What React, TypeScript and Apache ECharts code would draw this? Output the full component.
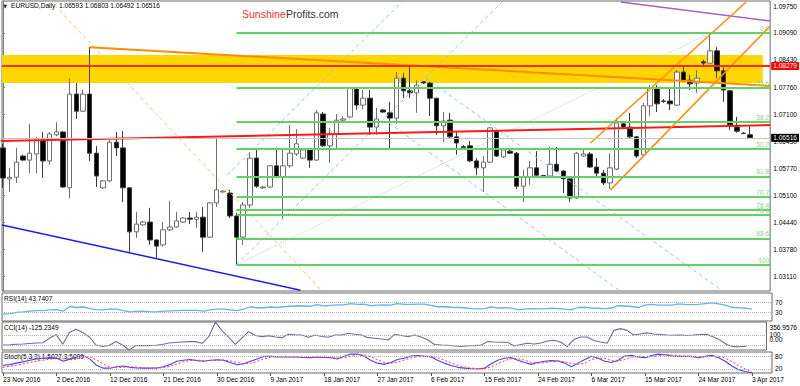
import React, { useEffect, useRef } from "react";
import * as echarts from "echarts";

// ---------- data ----------
const symbolName = "EURUSD,Daily";
const dateLabels = [
  "23 Nov 2016", "2 Dec 2016", "12 Dec 2016", "21 Dec 2016", "30 Dec 2016",
  "9 Jan 2017", "18 Jan 2017", "27 Jan 2017", "6 Feb 2017", "15 Feb 2017",
  "24 Feb 2017", "6 Mar 2017", "15 Mar 2017", "24 Mar 2017", "3 Apr 2017",
];
const barsPerLabel = 8;
const priceTicks = [1.0311, 1.0378, 1.0444, 1.051, 1.0577, 1.0643, 1.071, 1.0776, 1.0843, 1.0909, 1.0975];

// [open, close, low, high]
const ohlc: number[][] = [
  [1.0627, 1.0553, 1.0529, 1.0637], [1.0551, 1.0555, 1.0519, 1.0578], [1.0555, 1.0592, 1.0541, 1.0627],
  [1.0607, 1.0597, 1.0595, 1.061], [1.0597, 1.0614, 1.0565, 1.0686], [1.0612, 1.0646, 1.0565, 1.0654],
  [1.0646, 1.0595, 1.0553, 1.0666], [1.0595, 1.0661, 1.0585, 1.0666], [1.0659, 1.0666, 1.0656, 1.069],
  [1.0666, 1.0531, 1.0529, 1.0668], [1.0529, 1.0759, 1.0504, 1.0798], [1.0759, 1.0717, 1.0698, 1.0786],
  [1.0717, 1.0759, 1.0715, 1.0769], [1.0759, 1.0614, 1.0595, 1.0874], [1.0614, 1.0558, 1.0531, 1.0632],
  [1.0529, 1.0546, 1.0526, 1.0548], [1.0546, 1.0641, 1.0543, 1.0646], [1.0641, 1.0627, 1.0607, 1.0666],
  [1.0627, 1.0529, 1.0494, 1.0668], [1.0529, 1.0421, 1.0372, 1.0531], [1.0421, 1.044, 1.0406, 1.047],
  [1.0438, 1.0445, 1.0436, 1.0448], [1.0445, 1.0401, 1.0389, 1.048], [1.0401, 1.0386, 1.0357, 1.0403],
  [1.0389, 1.0426, 1.0384, 1.0445], [1.0426, 1.0433, 1.0423, 1.0497], [1.0433, 1.0448, 1.0431, 1.047],
  [1.0445, 1.0455, 1.0443, 1.0457], [1.0455, 1.0452, 1.044, 1.047], [1.0452, 1.0457, 1.0431, 1.047],
  [1.0457, 1.0408, 1.0372, 1.0482], [1.0408, 1.0492, 1.0406, 1.0494], [1.0492, 1.0524, 1.0482, 1.0651],
  [1.0519, 1.0521, 1.0516, 1.0524], [1.0516, 1.046, 1.0455, 1.0524], [1.046, 1.0408, 1.034, 1.0467],
  [1.0408, 1.0487, 1.0389, 1.0494], [1.0487, 1.0602, 1.048, 1.0617], [1.0602, 1.0533, 1.0529, 1.0624],
  [1.0529, 1.0531, 1.0526, 1.0534], [1.0531, 1.0583, 1.0529, 1.0585], [1.0583, 1.0556, 1.0553, 1.0627],
  [1.0556, 1.0583, 1.0453, 1.0622], [1.0583, 1.0614, 1.0578, 1.0683], [1.0612, 1.0637, 1.0607, 1.0673],
  [1.0602, 1.0622, 1.06, 1.0627], [1.0622, 1.0597, 1.0578, 1.0624], [1.0597, 1.0713, 1.0595, 1.072],
  [1.071, 1.0632, 1.0629, 1.0715], [1.0632, 1.0661, 1.059, 1.0676], [1.0661, 1.0695, 1.0624, 1.071],
  [1.0695, 1.0698, 1.0693, 1.0705], [1.0703, 1.0774, 1.07, 1.0776], [1.0774, 1.0732, 1.072, 1.0776],
  [1.0732, 1.0749, 1.0722, 1.0769], [1.0749, 1.0678, 1.0659, 1.0769], [1.0678, 1.0698, 1.0659, 1.0725],
  [1.072, 1.0715, 1.0713, 1.0722], [1.0713, 1.07, 1.0622, 1.074], [1.07, 1.0798, 1.0686, 1.0813],
  [1.0798, 1.0767, 1.0749, 1.0811], [1.0767, 1.0762, 1.0749, 1.0828], [1.0762, 1.0781, 1.0713, 1.0793],
  [1.0789, 1.0786, 1.0784, 1.0791], [1.0786, 1.0749, 1.0705, 1.0789], [1.0749, 1.0681, 1.0659, 1.0749],
  [1.0681, 1.0693, 1.0641, 1.0715], [1.0695, 1.0654, 1.0651, 1.0713], [1.0654, 1.0639, 1.061, 1.0666],
  [1.063, 1.0628, 1.0624, 1.0634], [1.0632, 1.0595, 1.0592, 1.0644], [1.0595, 1.0578, 1.056, 1.0602],
  [1.0578, 1.0592, 1.0519, 1.0607], [1.0592, 1.0676, 1.059, 1.0678], [1.0668, 1.0607, 1.0605, 1.0671],
  [1.0605, 1.0622, 1.0602, 1.0624], [1.0619, 1.0614, 1.0612, 1.0622], [1.0614, 1.0533, 1.0526, 1.0617],
  [1.0533, 1.0556, 1.0494, 1.0573], [1.0556, 1.0578, 1.0536, 1.0595], [1.0578, 1.056, 1.0558, 1.0619],
  [1.0559, 1.0558, 1.0556, 1.0561], [1.0558, 1.0587, 1.0555, 1.0629], [1.0587, 1.057, 1.0568, 1.0629],
  [1.057, 1.0551, 1.0516, 1.0573], [1.0551, 1.0504, 1.0494, 1.0551], [1.0504, 1.0614, 1.0502, 1.0617],
  [1.0607, 1.0612, 1.0605, 1.0622], [1.0612, 1.058, 1.0578, 1.0617], [1.058, 1.0565, 1.0556, 1.0602],
  [1.0565, 1.0541, 1.0536, 1.0573], [1.0541, 1.0578, 1.0526, 1.0614], [1.0575, 1.0688, 1.0573, 1.07],
  [1.0686, 1.0678, 1.0676, 1.0688], [1.0678, 1.0654, 1.0651, 1.0713], [1.0654, 1.0607, 1.0602, 1.0656],
  [1.061, 1.073, 1.0607, 1.0737], [1.073, 1.0774, 1.0705, 1.0781], [1.0774, 1.0735, 1.0715, 1.0781],
  [1.0742, 1.0741, 1.0737, 1.0747], [1.0742, 1.0735, 1.072, 1.0774], [1.0732, 1.0813, 1.073, 1.0818],
  [1.0813, 1.0793, 1.0789, 1.083], [1.0793, 1.0784, 1.0769, 1.0806], [1.0786, 1.0798, 1.0762, 1.0818],
  [1.0838, 1.0835, 1.0825, 1.0843], [1.0835, 1.0865, 1.0835, 1.0909], [1.0865, 1.0816, 1.0798, 1.0874],
  [1.0816, 1.0769, 1.074, 1.0825], [1.0767, 1.0683, 1.0671, 1.0769], [1.0678, 1.0668, 1.0664, 1.0703],
  [1.0663, 1.0662, 1.0661, 1.0666], [1.06593, 1.06516, 1.06492, 1.06803],
];

const rsi = [
  24, 26, 31, 33, 36, 38, 38, 41, 42, 36, 54, 50, 52, 46, 42, 41, 45, 44, 38, 33,
  35, 36, 34, 33, 36, 37, 38, 39, 39, 39, 36, 41, 44, 44, 41, 38, 44, 53, 49, 49,
  52, 50, 53, 55, 57, 56, 55, 61, 56, 58, 60, 60, 65, 62, 63, 57, 59, 60, 59, 65,
  62, 62, 63, 63, 58, 53, 54, 51, 50, 49, 46, 45, 46, 52, 48, 49, 48, 42, 44, 46,
  45, 45, 47, 46, 44, 41, 50, 51, 48, 47, 45, 48, 57, 56, 54, 50, 59, 62, 59, 59,
  59, 64, 62, 61, 62, 65, 68, 64, 59, 51, 49, 48, 43.7407,
];

const cci = [
  -100, -95, -86, -80, -70, -60, -55, 33, 110, -86, 150, 215, 150, 60, -100, -130, -110, -30, -100, -199.4345,
  -113, -113, -113, -105, -90, -60, -50, -40, -33, -33, -66, 66, 356.9576, 180, 50, -86, 40, 165, 90, 66,
  86, 60, 46, 112, 105, 99, 53, 99, 70, 53, 99, 99, 132, 115, 99, 46, 33, 20, 0, 112,
  90, 66, 100, 60, 0, -90, -100, -105, -120, -130, -115, -113, -100, -33, -40, -46, -46, -120, -90, -66,
  -80, -60, -20, -5, -40, -133, 10, 60, 60, -10, -40, -66, 190, 225, 190, 100, 120, 140, 120, 110,
  100, 95, 99, 90, 99, 110, 112, 60, 0, -90, -133, -135, -125.2349,
];

const stochK = [
  37, 40, 47, 53, 61, 67, 70, 73, 71, 56, 66, 76, 84, 66, 37, 23, 23, 30, 33, 27,
  24, 23, 23, 24, 30, 41, 56, 61, 64, 59, 56, 61, 63, 61, 50, 39, 44, 56, 67, 79,
  80, 77, 76, 76, 76, 74, 73, 76, 74, 73, 67, 80, 90, 90, 80, 61, 47, 41, 50, 64,
  70, 81, 83, 80, 76, 61, 47, 36, 27, 23, 20, 19, 23, 44, 61, 70, 73, 61, 50, 41,
  50, 56, 59, 57, 47, 30, 47, 64, 80, 70, 56, 50, 61, 81, 84, 76, 73, 83, 90, 87,
  81, 79, 80, 79, 73, 79, 84, 73, 56, 33, 16, 7, 1.5027,
];

const stochD = [
  28, 32, 37, 43, 50, 56, 61, 66, 69, 68, 63, 66, 75, 77, 63, 42, 28, 25, 27, 30,
  28, 25, 23, 23, 26, 32, 42, 53, 60, 61, 60, 59, 60, 62, 58, 50, 44, 46, 55, 67,
  75, 79, 78, 76, 76, 75, 74, 74, 75, 74, 71, 73, 79, 87, 87, 77, 63, 50, 46, 52,
  62, 72, 78, 81, 80, 72, 61, 48, 37, 29, 23, 21, 21, 29, 43, 58, 68, 68, 61, 51,
  47, 49, 55, 57, 54, 45, 41, 47, 64, 71, 69, 59, 56, 64, 75, 80, 78, 77, 82, 87,
  86, 82, 80, 79, 77, 77, 79, 79, 71, 54, 35, 19, 3.5,
];

// key levels
const resistanceLevel = 1.08279;
const bidLevel = 1.06516;
const zoneLow = 1.0786;
const zoneHigh = 1.0855;
const fibHigh = 1.0909;
const fibLow = 1.034;
const fibStartBar = 35;
const fibLevels = ["0.0", "23.6", "38.2", "50.0", "61.8", "70.7", "76.4", "78.6", "88.6", "100"];

// trend lines as [bar index, price] end points
const orangeResistance = [[13, 1.0874], [115, 1.0779]];
const redSupport = [[-0.45, 1.0644], [115, 1.0683]];
const blueSupport = [[-0.15, 1.0438], [44.6, 1.0278]];
const orangeDashed = [[7.0, 1.099], [47.7, 1.0278]];
const purpleLine = [[92.6, 1.0985], [115, 1.0938]];
const channelUpper = [[88.07, 1.0639], [111.4, 1.0985]];
const channelLower = [[91.07, 1.0524], [115, 1.0926]];
const fibDiagonal = [[35, 1.034], [106, 1.0909]];
const blueRise1 = [[33.6, 1.056], [59.8, 1.0985]];
const blueRise2 = [[35, 1.034], [74.8, 1.0985]];
const blueFall1 = [[57.9, 1.0688], [92.3, 1.0278]];
const blueFall2 = [[63.4, 1.0798], [107.7, 1.0278]];

// ---------- chart ----------
const FONT = "Liberation Sans";
const FS = 6.6;
const X_MIN = -0.15;
const X_MAX = 115;

function buildOption() {
  const last = ohlc[ohlc.length - 1];
  const labelIdx = dateLabels.map((_, i) => i * barsPerLabel);
  const fibPrice = (r: number) => fibHigh - (r / 100) * (fibHigh - fibLow);
  const cciMax = Math.max(...cci);
  const cciMin = Math.min(...cci);

  const trend = (pts: number[][], color: string, width: number, type: any = "solid", z = 4) => ({
    type: "line",
    xAxisIndex: 0,
    yAxisIndex: 0,
    data: pts,
    showSymbol: false,
    symbol: "none",
    silent: true,
    clip: true,
    z,
    lineStyle: { color, width, type },
  });

  const grids = [
    { left: 2, top: 1, width: 770, height: 290 },
    { left: 2, top: 293, width: 770, height: 28 },
    { left: 2, top: 322, width: 770, height: 28 },
    { left: 2, top: 352, width: 770, height: 21 },
  ].map((g) => ({ ...g, show: true, borderColor: "#6b6b6b", borderWidth: 1, backgroundColor: "transparent" }));

  const hiddenX = (gi: number) => ({
    type: "value", gridIndex: gi, min: X_MIN, max: X_MAX, show: false,
    splitLine: { show: false },
  });

  const rightLabel = { fontSize: FS, fontFamily: FONT, color: "#000", margin: 3 };

  const option: any = {
    animation: false,
    backgroundColor: "#fff",
    textStyle: { fontFamily: FONT },
    grid: grids,
    xAxis: [
      hiddenX(0), hiddenX(1), hiddenX(2),
      {
        type: "value", gridIndex: 3, min: X_MIN, max: X_MAX,
        axisLine: { show: false },
        splitLine: { show: false },
        axisTick: { show: true, customValues: labelIdx, length: 3, lineStyle: { color: "#555" } },
        axisLabel: {
          customValues: labelIdx,
          formatter: (v: number) => dateLabels[Math.round(v / barsPerLabel)] ?? "",
          align: "left", fontSize: FS, fontFamily: FONT, color: "#000", margin: 3,
        },
      },
    ],
    yAxis: [
      {
        type: "value", gridIndex: 0, position: "right", min: 1.02759, max: 1.09873,
        axisLine: { show: true, lineStyle: { color: "#7a7a7a" } },
        axisTick: { show: true, customValues: priceTicks, length: 2, lineStyle: { color: "#7a7a7a" } },
        splitLine: { show: false },
        axisLabel: { ...rightLabel, customValues: priceTicks, formatter: (v: number) => v.toFixed(5) },
      },
      {
        type: "value", gridIndex: 1, position: "right", min: -3, max: 107,
        axisLine: { show: false }, axisTick: { show: false }, splitLine: { show: false },
        axisLabel: {
          ...rightLabel, customValues: [0, 30, 70, 100],
          formatter: (v: number) => (v === 100 ? "{t|100}" : v === 0 ? "{b|0}" : String(v)),
          rich: {
            t: { fontSize: FS, fontFamily: FONT, color: "#000", padding: [3, 0, 0, 0] },
            b: { fontSize: FS, fontFamily: FONT, color: "#000", padding: [0, 0, 4, 0] },
          },
        },
      },
      {
        type: "value", gridIndex: 2, position: "right", min: cciMin, max: cciMax,
        axisLine: { show: false }, axisTick: { show: false }, splitLine: { show: false },
        axisLabel: {
          ...rightLabel, customValues: [cciMin, 0, 100, cciMax],
          formatter: (v: number) => {
            if (v === cciMax) return "{t|" + v.toFixed(4) + "}";
            if (v === cciMin) return "{b|" + v.toFixed(4) + "}";
            if (v === 0) return "0.00";
            return String(v);
          },
          rich: {
            t: { fontSize: FS, fontFamily: FONT, color: "#000", padding: [11, 0, 0, 0] },
            b: { fontSize: FS, fontFamily: FONT, color: "#000", padding: [0, 0, 8, 0] },
          },
        },
      },
      {
        type: "value", gridIndex: 3, position: "right", min: 0, max: 100,
        axisLine: { show: false }, axisTick: { show: false }, splitLine: { show: false },
        axisLabel: {
          ...rightLabel, customValues: [0, 20, 80, 100],
          formatter: (v: number) => (v === 100 ? "{t|100}" : v === 0 ? "{b|0}" : String(v)),
          rich: {
            t: { fontSize: FS, fontFamily: FONT, color: "#000", padding: [8, 0, 0, 0] },
            b: { fontSize: FS, fontFamily: FONT, color: "#000", padding: [0, 0, 7, 0] },
          },
        },
      },
    ],
    series: [
      // supply zone
      {
        type: "line", xAxisIndex: 0, yAxisIndex: 0, data: [], silent: true, z: 1,
        markArea: {
          silent: true,
          itemStyle: { color: "#FFD700", opacity: 1 },
          data: [[{ xAxis: X_MIN, yAxis: zoneHigh }, { xAxis: 113.9, yAxis: zoneLow }]],
        },
      },
      // fibonacci retracement
      {
        type: "line", xAxisIndex: 0, yAxisIndex: 0, data: [], silent: true, z: 2,
        markLine: {
          silent: true, symbol: "none",
          lineStyle: { color: "#66CF66", width: 2, type: "solid" },
          label: {
            show: true, position: "insideEndTop", formatter: "{b}", distance: 1,
            color: "#86D986", fontSize: FS, fontFamily: FONT,
          },
          data: fibLevels.map((l) => [
            { name: l, coord: [fibStartBar, fibPrice(parseFloat(l))] },
            { coord: [X_MAX, fibPrice(parseFloat(l))] },
          ]),
        },
      },
      // candles + horizontal levels
      {
        type: "candlestick", xAxisIndex: 0, yAxisIndex: 0, z: 3,
        data: ohlc.map((d, i) => [i, d[0], d[1], d[2], d[3]]),
        encode: { x: 0, y: [1, 2, 3, 4] },
        barWidth: 5,
        itemStyle: { color: "#ffffff", color0: "#000000", borderColor: "#6e6e6e", borderColor0: "#3a3a3a", borderWidth: 1 },
        markLine: {
          silent: true, symbol: "none", precision: 5,
          data: [
            [
              { coord: [X_MIN, bidLevel], name: bidLevel.toFixed(5) },
              { coord: [X_MAX, bidLevel] },
            ],
            [
              { coord: [X_MIN, resistanceLevel], name: resistanceLevel.toFixed(5) },
              { coord: [X_MAX, resistanceLevel] },
            ],
          ].map((seg, k) => [
            {
              ...seg[0],
              lineStyle: k === 0
                ? { color: "#c4c4c4", width: 1, type: "solid" }
                : { color: "#FF2A00", width: 2, type: "solid" },
              label: {
                show: true, position: "end", distance: 1, formatter: "{b}",
                backgroundColor: k === 0 ? "#000" : "#FF0000", color: "#fff",
                padding: [1, 2, 0, 2], fontSize: FS, fontFamily: FONT,
              },
            },
            seg[1],
          ]),
        },
      },
      trend(fibDiagonal, "#c8c8c8", 1, "dotted", 2),
      trend(blueRise1, "#8EC8F2", 1, [4, 3]),
      trend(blueRise2, "#8EC8F2", 1, [4, 3]),
      trend(blueFall1, "#8EC8F2", 1, [4, 3]),
      trend(blueFall2, "#8EC8F2", 1, [4, 3]),
      trend(orangeDashed, "#FFBE78", 1, [4, 3]),
      trend(orangeResistance, "#FF8C00", 2),
      trend(redSupport, "#FF1A1A", 2),
      trend(blueSupport, "#1E1EE6", 1.5),
      trend(purpleLine, "#A45FD8", 1.5),
      trend(channelUpper, "#FF8C00", 1.5),
      trend(channelLower, "#FF8C00", 1.5),
      // RSI
      {
        type: "line", xAxisIndex: 1, yAxisIndex: 1, data: rsi.map((v, i) => [i, v]),
        showSymbol: false, symbol: "none", silent: true,
        lineStyle: { color: "#62B4EE", width: 1.3 },
        markLine: {
          silent: true, symbol: "none", label: { show: false },
          lineStyle: { color: "#b5b5b5", type: "dotted", width: 1 },
          data: [{ yAxis: 30 }, { yAxis: 70 }],
        },
      },
      // CCI
      {
        type: "line", xAxisIndex: 2, yAxisIndex: 2, data: cci.map((v, i) => [i, v]),
        showSymbol: false, symbol: "none", silent: true,
        lineStyle: { color: "#6F6F96", width: 1.1 },
        markLine: {
          silent: true, symbol: "none", label: { show: false },
          lineStyle: { color: "#b5b5b5", type: "dotted", width: 1 },
          data: [{ yAxis: 100 }, { yAxis: -100 }],
        },
      },
      // Stochastic
      {
        type: "line", xAxisIndex: 3, yAxisIndex: 3, data: stochK.map((v, i) => [i, v]),
        showSymbol: false, symbol: "none", silent: true,
        lineStyle: { color: "#4646F0", width: 1.1 },
        markLine: {
          silent: true, symbol: "none", label: { show: false },
          lineStyle: { color: "#b5b5b5", type: "dotted", width: 1 },
          data: [{ yAxis: 20 }, { yAxis: 80 }],
        },
      },
      {
        type: "line", xAxisIndex: 3, yAxisIndex: 3, data: stochD.map((v, i) => [i, v]),
        showSymbol: false, symbol: "none", silent: true,
        lineStyle: { color: "#FF3B3B", width: 1, type: [2, 2] },
      },
    ],
    graphic: [
      { type: "text", left: 3, top: 3, style: { text: "▼", fontSize: 5, fill: "#000", fontFamily: "DejaVu Sans" } },
      {
        type: "text", left: 11, top: 2,
        style: {
          text: `${symbolName}  ${last[0].toFixed(5)} ${last[3].toFixed(5)} ${last[2].toFixed(5)} ${last[1].toFixed(5)}`,
          fontSize: FS, fontFamily: FONT, fill: "#000",
        },
      },
      { type: "text", left: 242, top: 8, style: { text: "Sunshine", fontSize: 10.5, fontFamily: FONT, fill: "#E8322D" } },
      { type: "text", left: 286, top: 8, style: { text: "Profits.com", fontSize: 10.5, fontFamily: FONT, fill: "#333" } },
      { type: "text", left: 4, top: 295, style: { text: `RSI(14) ${rsi[rsi.length - 1].toFixed(4)}`, fontSize: FS, fontFamily: FONT, fill: "#000" } },
      { type: "text", left: 4, top: 324, style: { text: `CCI(14) ${cci[cci.length - 1].toFixed(4)}`, fontSize: FS, fontFamily: FONT, fill: "#000" } },
      {
        type: "text", left: 4, top: 353,
        style: {
          text: `Stoch(5,3,3) ${stochK[stochK.length - 1].toFixed(4)} ${stochD[stochD.length - 1].toFixed(4)}`,
          fontSize: FS, fontFamily: FONT, fill: "#000",
        },
      },
    ],
  };
  return option;
}

export default function App() {
  const ref = useRef<HTMLDivElement>(null);
  useEffect(() => {
    if (!ref.current) return;
    const chart = echarts.init(ref.current, null, { renderer: "svg" });
    chart.setOption(buildOption());
    return () => chart.dispose();
  }, []);
  return <div ref={ref} style={{ position: "fixed", left: 0, top: 0, width: 800, height: 386, background: "#fff" }} />;
}
